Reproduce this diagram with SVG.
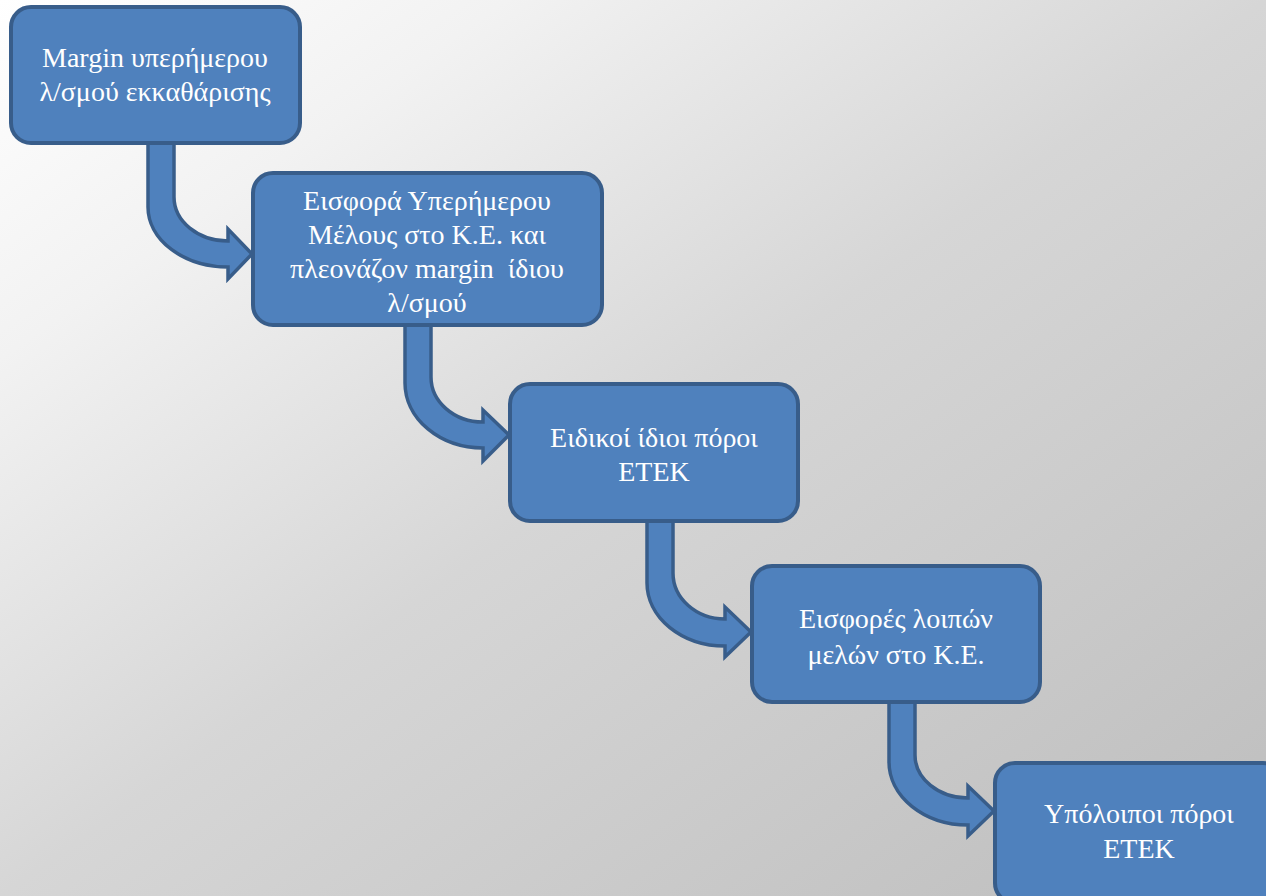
<svg xmlns="http://www.w3.org/2000/svg" width="1266" height="896" viewBox="0 0 1266 896">
<defs>
<linearGradient id="bg" x1="0" y1="0" x2="1" y2="1">
<stop offset="0" stop-color="#FFFFFF"/>
<stop offset="0.2" stop-color="#F2F2F2"/>
<stop offset="0.5" stop-color="#D6D6D6"/>
<stop offset="1" stop-color="#BDBDBD"/>
</linearGradient>
<style>
.box{fill:#4F81BD;stroke:#385D8A;stroke-width:4}
.arr{fill:#4F81BD;stroke:#385D8A;stroke-width:3.5;stroke-linejoin:miter}
.t{font-family:"Liberation Serif","DejaVu Serif",serif;font-size:28px;fill:#FFFFFF;text-anchor:middle}
</style>
</defs>
<rect x="0" y="0" width="1266" height="896" fill="url(#bg)"/>
<g id="connectors">
<path class="arr" d="M148,140 L148,207 A80,60 0 0 0 228,267 L228,279 L252,254 L228,229 L228,241 A54,44 0 0 1 174,197 L174,140 Z"/>
<path class="arr" d="M405,322 L405,383 A78,65 0 0 0 483,448 L483,461 L509,435 L483,410 L483,422 A52,45 0 0 1 431,377 L431,322 Z"/>
<path class="arr" d="M647,518 L647,583 A78,63 0 0 0 725,646 L725,657 L751,632 L725,607 L725,619 A52,46 0 0 1 673,573 L673,518 Z"/>
<path class="arr" d="M889,699 L889,762 A79,63 0 0 0 968,825 L968,836 L994,811 L968,786 L968,798 A53,43 0 0 1 915,755 L915,699 Z"/>
</g>
<g id="node1">
<rect class="box" x="11" y="7" width="289" height="136" rx="20"/>
<text class="t" x="155" y="67">Margin υπερήμερου</text>
<text class="t" x="155" y="101">λ/σμού εκκαθάρισης</text>
</g>
<g id="node2">
<rect class="box" x="253" y="173" width="349" height="152" rx="20"/>
<text class="t" x="427" y="210">Εισφορά Υπερήμερου</text>
<text class="t" x="427" y="244">Μέλους στο Κ.Ε. και</text>
<text class="t" x="427" y="278" xml:space="preserve">πλεονάζον margin  ίδιου</text>
<text class="t" x="427" y="312">λ/σμού</text>
</g>
<g id="node3">
<rect class="box" x="510" y="384" width="288" height="137" rx="20"/>
<text class="t" x="654" y="447">Ειδικοί ίδιοι πόροι</text>
<text class="t" x="654" y="481">ETEK</text>
</g>
<g id="node4">
<rect class="box" x="752" y="566" width="288" height="136" rx="20"/>
<text class="t" x="896" y="628">Εισφορές λοιπών</text>
<text class="t" x="896" y="664">μελών στο Κ.Ε.</text>
</g>
<g id="node5">
<rect class="box" x="995" y="763" width="288" height="140" rx="20"/>
<text class="t" x="1139" y="823">Υπόλοιποι πόροι</text>
<text class="t" x="1139" y="858">ETEK</text>
</g>
</svg>
